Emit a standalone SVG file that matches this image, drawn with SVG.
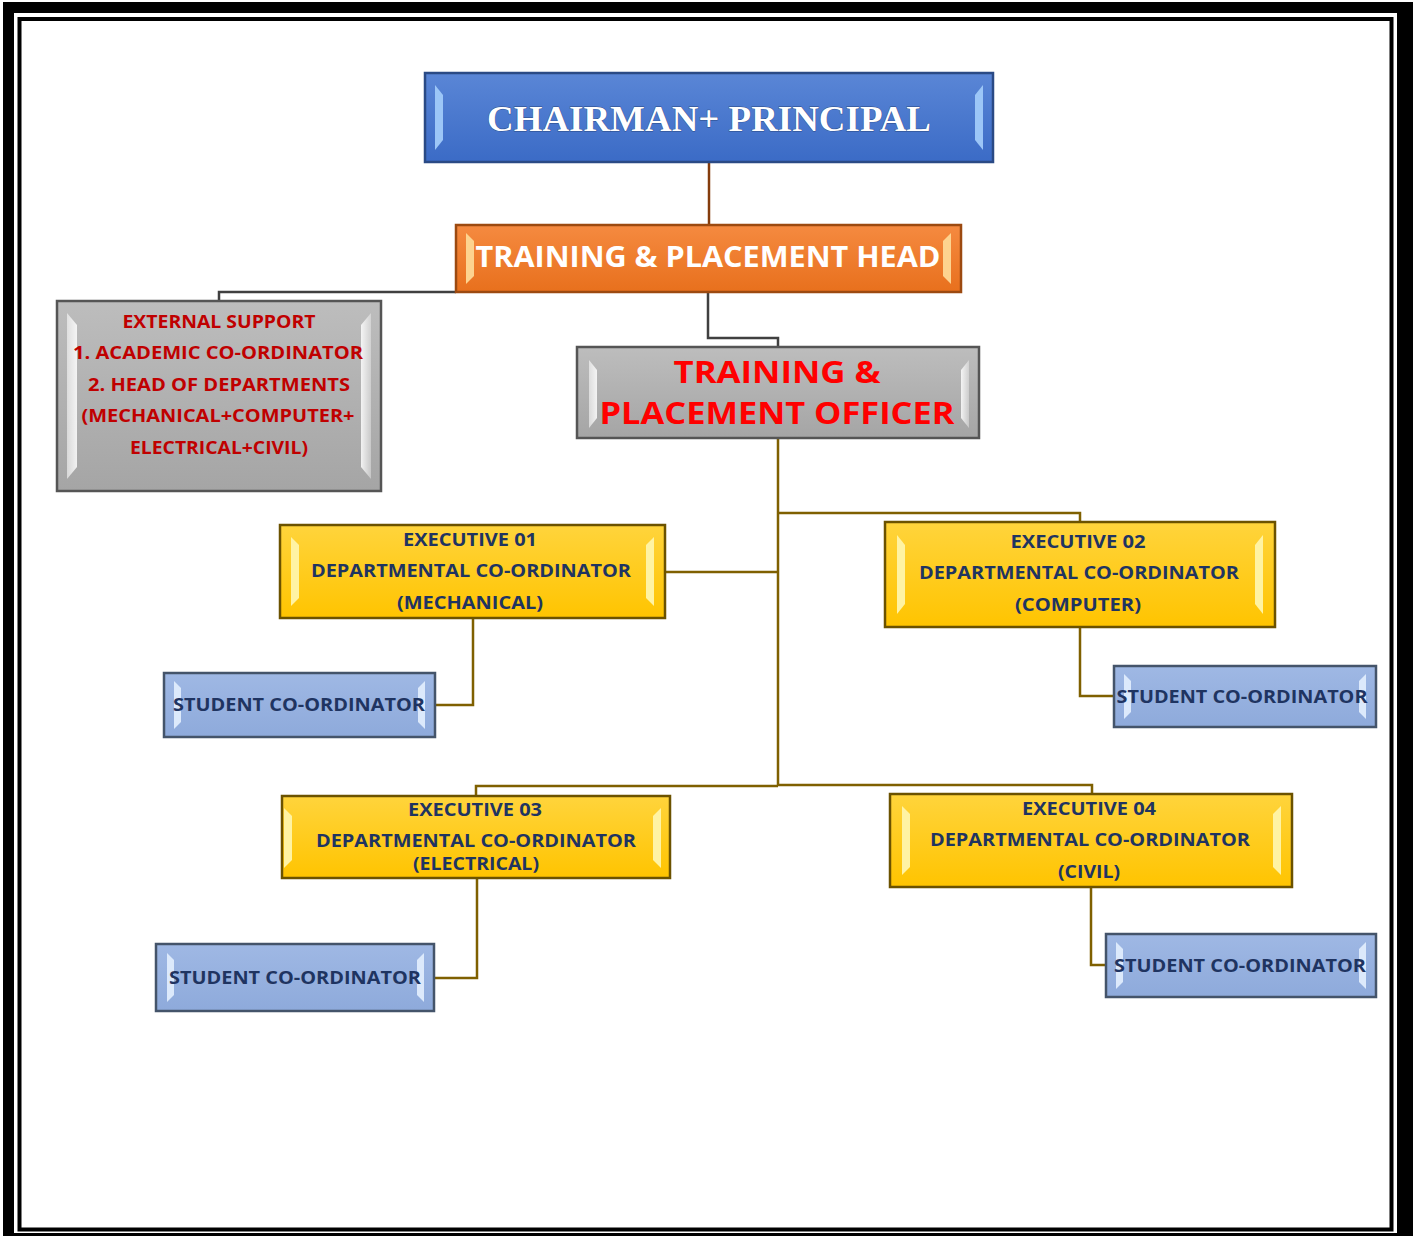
<svg xmlns="http://www.w3.org/2000/svg" width="1413" height="1236" viewBox="0 0 1413 1236">
<defs>
<linearGradient id="gBlue" x1="0" y1="0" x2="0" y2="1"><stop offset="0" stop-color="#5a86d6"/><stop offset="1" stop-color="#3b6bc6"/></linearGradient>
<linearGradient id="gOrange" x1="0" y1="0" x2="0" y2="1"><stop offset="0" stop-color="#f58a40"/><stop offset="1" stop-color="#e8701d"/></linearGradient>
<linearGradient id="gGray" x1="0" y1="0" x2="0" y2="1"><stop offset="0" stop-color="#bdbdbd"/><stop offset="1" stop-color="#a5a5a5"/></linearGradient>
<linearGradient id="gYellow" x1="0" y1="0" x2="0" y2="1"><stop offset="0" stop-color="#ffd43c"/><stop offset="1" stop-color="#ffc400"/></linearGradient>
<linearGradient id="gLight" x1="0" y1="0" x2="0" y2="1"><stop offset="0" stop-color="#9fb8e4"/><stop offset="1" stop-color="#8eaadb"/></linearGradient>
<linearGradient id="bevL" x1="0" y1="0" x2="1" y2="0"><stop offset="0" stop-color="#ffffff" stop-opacity="0.55"/><stop offset="1" stop-color="#ffffff" stop-opacity="0.85"/></linearGradient>
<linearGradient id="bevR" x1="0" y1="0" x2="1" y2="0"><stop offset="0" stop-color="#ffffff" stop-opacity="0.85"/><stop offset="1" stop-color="#ffffff" stop-opacity="0.35"/></linearGradient>
</defs>
<style>
.box{stroke-width:2.5}
.blue{fill:url(#gBlue);stroke:#2a4a85}
.orange{fill:url(#gOrange);stroke:#9c4a10}
.gray{fill:url(#gGray);stroke:#555555}
.yellow{fill:url(#gYellow);stroke:#6b5200}
.light{fill:url(#gLight);stroke:#44546a}
.bl{fill:url(#bevL)}
.br{fill:url(#bevR)}
.t{font-family:"Open Sans","Liberation Sans",sans-serif;font-weight:bold;text-anchor:middle}
.navy{fill:#1f3461;font-size:18px}
.ext{fill:#c00000;font-size:18px}
.off{fill:#ff0000;font-size:31px}
.head{fill:#ffffff;font-size:28px}
.chair{fill:#ffffff;font-family:"Liberation Serif",serif;font-weight:bold;font-size:36px;text-anchor:middle;stroke:#2a4a85;stroke-width:0.8;paint-order:stroke}
.c{fill:none;stroke-width:2.5;stroke-linejoin:miter}
.cb{stroke:#843c0c}
.cg{stroke:#404040}
.cy{stroke:#7f6000}
</style>
<rect x="0" y="0" width="1413" height="1236" fill="#ffffff"/>
<path d="M3 2H1413V1236H3Z M14 13V1233H1397V13Z" fill="#000000" fill-rule="evenodd"/>
<rect x="19.5" y="19" width="1372" height="1210.5" fill="none" stroke="#000000" stroke-width="4"/>

<g id="connectors">
<path class="c cb" d="M709 162V225"/>
<path class="c cg" d="M456 292H219V301"/>
<path class="c cg" d="M708 292V338H778V347"/>
<path class="c cy" d="M778 438V786"/>
<path class="c cy" d="M778 513H1080V522"/>
<path class="c cy" d="M778 572H665"/>
<path class="c cy" d="M778 786H476V796"/>
<path class="c cy" d="M778 785H1092V794"/>
<path class="c cy" d="M473 618V705H435"/>
<path class="c cy" d="M1080 627V696H1114"/>
<path class="c cy" d="M477 878V978H434"/>
<path class="c cy" d="M1091 887V965H1106"/>
</g>

<g id="chairman">
<rect class="box blue" x="425" y="73" width="568" height="89"/>
<polygon fill="#9cc6f7" points="435,85 443,95 443,140 435,150"/>
<polygon fill="#9cc6f7" points="983,85 975,95 975,140 983,150"/>
<text class="chair" x="709" y="131" textLength="444" lengthAdjust="spacingAndGlyphs">CHAIRMAN+ PRINCIPAL</text>
</g>

<g id="tp-head">
<rect class="box orange" x="456" y="225" width="505" height="67"/>
<polygon fill="#fdd38f" points="466,233 474,241 474,276 466,284"/>
<polygon fill="#fdd38f" points="951,233 943,241 943,276 951,284"/>
<text class="t head" x="708" y="267" textLength="465" lengthAdjust="spacingAndGlyphs">TRAINING &amp; PLACEMENT HEAD</text>
</g>

<g id="external-support">
<rect class="box gray" x="57" y="301" width="324" height="190"/>
<polygon class="bl" points="67,313 77,325 77,467 67,479"/>
<polygon class="br" points="371,313 361,325 361,467 371,479"/>
<text class="t ext" x="219" y="328" textLength="193" lengthAdjust="spacingAndGlyphs">EXTERNAL SUPPORT</text>
<text class="t ext" x="218" y="359" textLength="290" lengthAdjust="spacingAndGlyphs">1. ACADEMIC CO-ORDINATOR</text>
<text class="t ext" x="219" y="391" textLength="262" lengthAdjust="spacingAndGlyphs">2. HEAD OF DEPARTMENTS</text>
<text class="t ext" x="218" y="422" textLength="273" lengthAdjust="spacingAndGlyphs">(MECHANICAL+COMPUTER+</text>
<text class="t ext" x="219" y="454" textLength="178" lengthAdjust="spacingAndGlyphs">ELECTRICAL+CIVIL)</text>
</g>

<g id="tp-officer">
<rect class="box gray" x="577" y="347" width="402" height="91"/>
<polygon class="bl" points="589,360 597,370 597,418 589,428"/>
<polygon class="br" points="969,360 961,370 961,418 969,428"/>
<text class="t off" x="777" y="383" textLength="207" lengthAdjust="spacingAndGlyphs">TRAINING &amp;</text>
<text class="t off" x="777" y="424" textLength="355" lengthAdjust="spacingAndGlyphs">PLACEMENT OFFICER</text>
</g>

<g id="exec01">
<rect class="box yellow" x="280" y="525" width="385" height="93"/>
<polygon fill="#fff3a3" points="291,537 299,545 299,598 291,606"/>
<polygon fill="#fff3a3" points="654,537 646,545 646,598 654,606"/>
<text class="t navy" x="470" y="546" textLength="134" lengthAdjust="spacingAndGlyphs">EXECUTIVE  01</text>
<text class="t navy" x="471" y="577" textLength="320" lengthAdjust="spacingAndGlyphs">DEPARTMENTAL CO-ORDINATOR</text>
<text class="t navy" x="470" y="609" textLength="146" lengthAdjust="spacingAndGlyphs">(MECHANICAL)</text>
</g>

<g id="exec02">
<rect class="box yellow" x="885" y="522" width="390" height="105"/>
<polygon fill="#fff3a3" points="897,535 905,545 905,604 897,614"/>
<polygon fill="#fff3a3" points="1263,535 1255,545 1255,604 1263,614"/>
<text class="t navy" x="1078" y="548" textLength="135" lengthAdjust="spacingAndGlyphs">EXECUTIVE  02</text>
<text class="t navy" x="1079" y="579" textLength="320" lengthAdjust="spacingAndGlyphs">DEPARTMENTAL CO-ORDINATOR</text>
<text class="t navy" x="1078" y="611" textLength="126" lengthAdjust="spacingAndGlyphs">(COMPUTER)</text>
</g>

<g id="exec03">
<rect class="box yellow" x="282" y="796" width="388" height="82"/>
<polygon fill="#fff3a3" points="284,808 292,816 292,860 284,868"/>
<polygon fill="#fff3a3" points="661,808 653,816 653,860 661,868"/>
<text class="t navy" x="475" y="816" textLength="134" lengthAdjust="spacingAndGlyphs">EXECUTIVE  03</text>
<text class="t navy" x="476" y="847" textLength="320" lengthAdjust="spacingAndGlyphs">DEPARTMENTAL CO-ORDINATOR</text>
<text class="t navy" x="476" y="870" textLength="126" lengthAdjust="spacingAndGlyphs">(ELECTRICAL)</text>
</g>

<g id="exec04">
<rect class="box yellow" x="890" y="794" width="402" height="93"/>
<polygon fill="#fff3a3" points="902,806 910,814 910,867 902,875"/>
<polygon fill="#fff3a3" points="1281,806 1273,814 1273,867 1281,875"/>
<text class="t navy" x="1089" y="815" textLength="134" lengthAdjust="spacingAndGlyphs">EXECUTIVE  04</text>
<text class="t navy" x="1090" y="846" textLength="320" lengthAdjust="spacingAndGlyphs">DEPARTMENTAL CO-ORDINATOR</text>
<text class="t navy" x="1089" y="878" textLength="62" lengthAdjust="spacingAndGlyphs">(CIVIL)</text>
</g>

<g id="student1">
<rect class="box light" x="164" y="673" width="271" height="64"/>
<polygon fill="#dce9fb" points="174,681 181,688 181,722 174,729"/>
<polygon fill="#dce9fb" points="425,681 418,688 418,722 425,729"/>
<text class="t navy" x="299" y="711" textLength="252" lengthAdjust="spacingAndGlyphs">STUDENT CO-ORDINATOR</text>
</g>

<g id="student2">
<rect class="box light" x="1114" y="666" width="262" height="61"/>
<polygon fill="#dce9fb" points="1124,674 1131,681 1131,712 1124,719"/>
<polygon fill="#dce9fb" points="1366,674 1359,681 1359,712 1366,719"/>
<text class="t navy" x="1242" y="703" textLength="251" lengthAdjust="spacingAndGlyphs">STUDENT CO-ORDINATOR</text>
</g>

<g id="student3">
<rect class="box light" x="156" y="944" width="278" height="67"/>
<polygon fill="#dce9fb" points="167,953 174,960 174,995 167,1002"/>
<polygon fill="#dce9fb" points="424,953 417,960 417,995 424,1002"/>
<text class="t navy" x="295" y="984" textLength="252" lengthAdjust="spacingAndGlyphs">STUDENT CO-ORDINATOR</text>
</g>

<g id="student4">
<rect class="box light" x="1106" y="934" width="270" height="63"/>
<polygon fill="#dce9fb" points="1116,942 1123,949 1123,982 1116,989"/>
<polygon fill="#dce9fb" points="1366,942 1359,949 1359,982 1366,989"/>
<text class="t navy" x="1240" y="972" textLength="252" lengthAdjust="spacingAndGlyphs">STUDENT CO-ORDINATOR</text>
</g>
</svg>
